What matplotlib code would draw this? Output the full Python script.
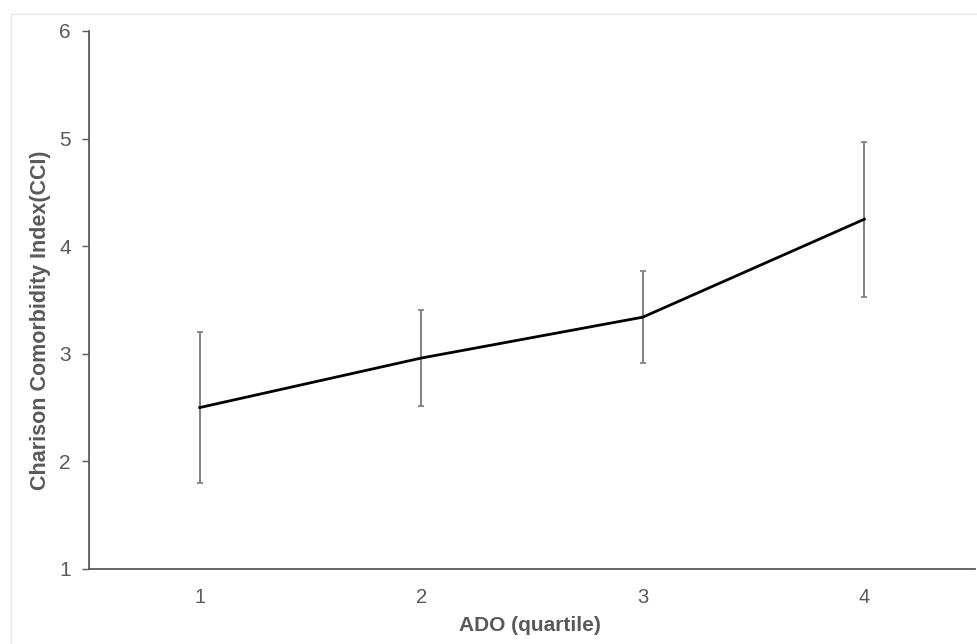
import matplotlib.pyplot as plt
from matplotlib.patches import Rectangle

quartiles = [1, 2, 3, 4]
cci_mean = [2.50, 2.96, 3.34, 4.25]
cci_err = [0.70, 0.45, 0.43, 0.72]
y_ticks = [1, 2, 3, 4, 5, 6]

plt.rcParams['font.family'] = ['Liberation Sans', 'DejaVu Sans']
grey = '#595959'

fig = plt.figure(figsize=(9.78, 6.44), dpi=100)
# faint frame around the chart area, like the source screenshot
fig.patches.append(Rectangle((11 / 978, -0.01), 1.0, 1 - 14 / 644 + 0.01,
                             transform=fig.transFigure, fill=False,
                             edgecolor='#e6e6e6', linewidth=1.0))

ax = fig.add_axes([0.091, 0.1165, 0.906, 0.8355])
ax.errorbar(quartiles, cci_mean, yerr=cci_err, color='black', linewidth=2.0,
            ecolor='#858585', elinewidth=1.5, capsize=2.5, capthick=1.3, zorder=3)
ax.lines[0].set_zorder(4)

ax.set_xlim(0.5, 4.5)
ax.set_ylim(1, 6)
ax.set_xticks(quartiles)
ax.set_yticks(y_ticks)
ax.tick_params(axis='x', length=0, pad=14, labelsize=14.5, labelcolor=grey)
ax.tick_params(axis='y', length=5, width=1, color=grey, pad=8, labelsize=15, labelcolor=grey)

for side in ['top', 'right']:
    ax.spines[side].set_visible(False)
for side in ['left', 'bottom']:
    ax.spines[side].set_color(grey)
    ax.spines[side].set_linewidth(1.3)

ax.set_xlabel('ADO (quartile)', fontsize=15, fontweight='bold', color=grey)
ax.set_ylabel('Charison Comorbidity Index(CCI)', fontsize=15.5, fontweight='bold',
              color=grey)
ax.xaxis.set_label_coords(0.4975, -0.088)
ax.yaxis.set_label_coords(-0.043, 0.463)

fig.savefig('out.png', dpi=100)
